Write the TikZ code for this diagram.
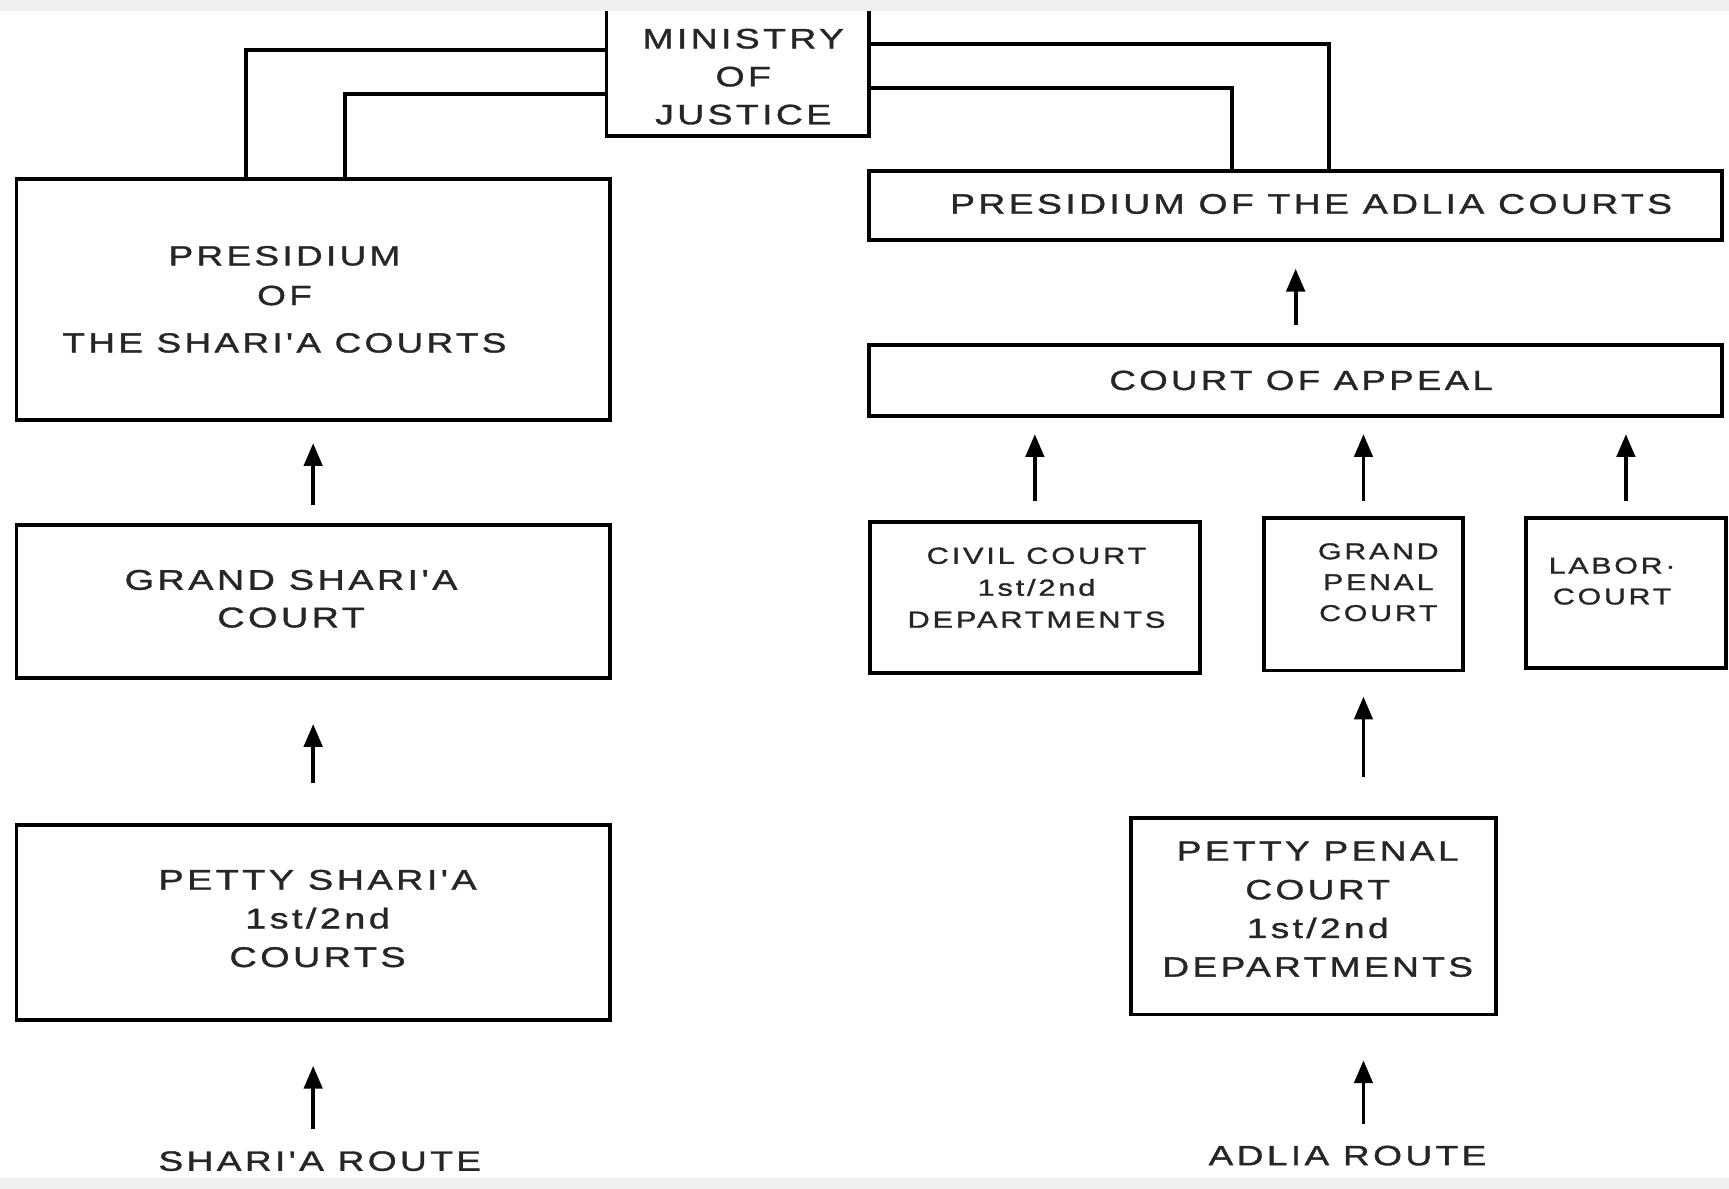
\documentclass[tikz,border=0pt]{standalone}
\usepackage{fontspec}
\newfontfamily\lf[FakeStretch=1.33,LetterSpace=12,FakeBold=1.2]{Liberation Sans}
\usetikzlibrary{arrows.meta,fit}
\begin{document}
\begin{tikzpicture}[x=0.011027cm,y=-0.011027cm,
  box/.style={draw=black, line width=1.1pt, inner sep=0pt},
  lbl/.style={inner sep=0pt, align=center, text=black!85},
  conn/.style={line width=1.1pt},
  uparrow/.style={line width=1.1pt, -{Triangle[length=6.5pt,width=5.2pt]}},
]
\fill[white] (0,0) rectangle (1568,1078);
\useasboundingbox (0,0) rectangle (1568,1078);

% boxes
\node[box, fit={(550,-5) (788,123)}] (min) {};
\node[box, fit={(15,162) (553,381)}] (presS) {};
\node[box, fit={(15,476) (553,615)}] (grandS) {};
\node[box, fit={(15,748) (553,925)}] (pettyS) {};
\node[box, fit={(788,155) (1562,218)}] (presA) {};
\node[box, fit={(788,313) (1562,377)}] (appeal) {};
\node[box, fit={(789,473) (1088,610)}] (civil) {};
\node[box, fit={(1146,470) (1327,608)}] (grandP) {};
\node[box, fit={(1384,470) (1565,606)}] (labor) {};
\node[box, fit={(1026,742) (1357,920)}] (pettyP) {};

% labels
\node[lbl, font={\lf\fontsize{8.0}{10.8}\selectfont}] (tmin) at (674,69.5) {MINISTRY\\OF\\JUSTICE};
\node[lbl, font={\lf\fontsize{7.9}{11.3}\selectfont}] (tpresS) at (258,271.5) {PRESIDIUM\\OF\\[2.2pt]THE SHARI'A COURTS};
\node[lbl, font={\lf\fontsize{8.1}{10.7}\selectfont}] (tgrandS) at (264,543) {GRAND SHARI'A\\COURT};
\node[lbl, font={\lf\fontsize{8.1}{11}\selectfont}] (tpettyS) at (288,833) {PETTY SHARI'A\\1st/2nd\\COURTS};
\node[lbl, font={\lf\fontsize{8.0}{10}\selectfont}] (tpresA) at (1189,185) {PRESIDIUM OF THE ADLIA COURTS};
\node[lbl, font={\lf\fontsize{7.85}{10}\selectfont}] (tappeal) at (1180,345) {COURT OF APPEAL};
\node[lbl, font={\lf\fontsize{6.6}{9.1}\selectfont}] (tcivil) at (940,533) {CIVIL COURT\\1st/2nd\\DEPARTMENTS};
\node[lbl, font={\lf\fontsize{6.5}{8.8}\selectfont}] (tgrandP) at (1250,528) {GRAND\\PENAL\\COURT};
\node[lbl, font={\lf\fontsize{6.5}{8.8}\selectfont}] (tlabor) at (1462,527) {LABOR·\\COURT};
\node[lbl, font={\lf\fontsize{7.95}{11}\selectfont}] (tpettyP) at (1195,824.5) {PETTY PENAL\\COURT\\1st/2nd\\DEPARTMENTS};
\node[lbl, font={\lf\fontsize{7.95}{10}\selectfont}] (sroute) at (290,1053) {SHARI'A ROUTE};
\node[lbl, font={\lf\fontsize{7.95}{10}\selectfont}] (aroute) at (1222,1048) {ADLIA ROUTE};

% connectors from the ministry
\coordinate (k1) at (223,45);
\coordinate (k2) at (313,85);
\coordinate (k3) at (1205,40);
\coordinate (k4) at (1117,80);
\draw[conn] (min.west |- k1) -- (k1) -- (k1 |- presS.north);
\draw[conn] (min.west |- k2) -- (k2) -- (k2 |- presS.north);
\draw[conn] (min.east |- k3) -- (k3) -- (k3 |- presA.north);
\draw[conn] (min.east |- k4) -- (k4) -- (k4 |- presA.north);

% arrows, shari'a route
\draw[uparrow, shorten <=5pt, shorten >=6pt] (grandS.north) -- (presS.south);
\draw[uparrow, shorten <=11.3pt, shorten >=12.5pt] (pettyS.north) -- (grandS.south);
\draw[uparrow, shorten <=6pt, shorten >=12.5pt] (sroute.north -| pettyS.south) -- (pettyS.south);

% arrows, adlia route
\draw[uparrow, shorten <=5.3pt, shorten >=7.5pt] (appeal.north) -- (presA.south);
\draw[uparrow, shorten <=5.3pt, shorten >=4.7pt] (civil.north) -- (civil.north |- appeal.south);
\draw[uparrow, shorten <=4.4pt, shorten >=4.7pt] (grandP.north) -- (grandP.north |- appeal.south);
\draw[uparrow, shorten <=4.4pt, shorten >=4.7pt] (labor.north) -- (labor.north |- appeal.south);
\draw[uparrow, shorten <=11.3pt, shorten >=6.9pt] (pettyP.north -| grandP.south) -- (grandP.south);
\draw[uparrow, shorten <=6pt, shorten >=12.5pt] (aroute.north -| grandP.south) -- (pettyP.south -| grandP.south);

% scan margins
\fill[gray!12] (0,0) rectangle (1568,10);
\fill[gray!12] (0,1068) rectangle (1568,1078);
\end{tikzpicture}
\end{document}
